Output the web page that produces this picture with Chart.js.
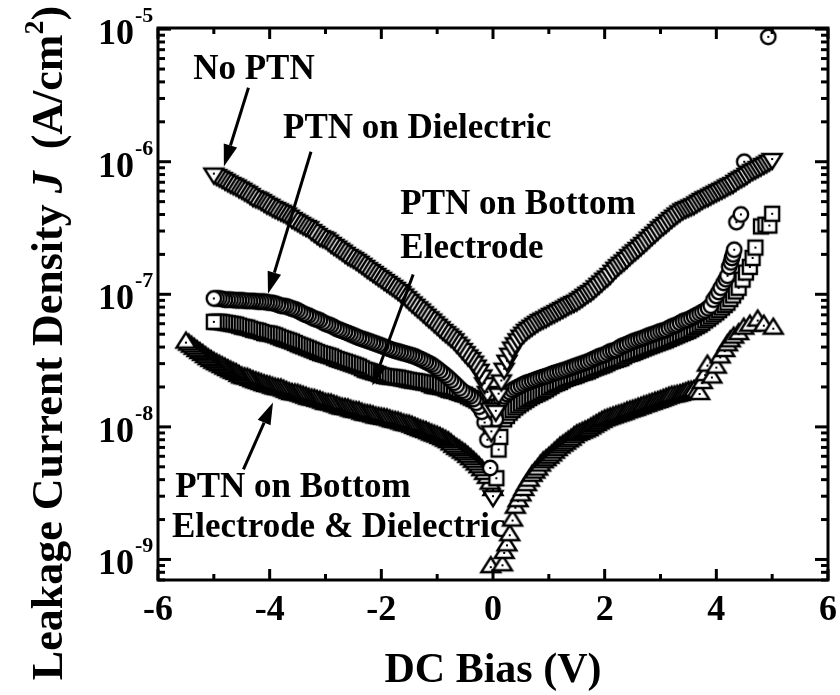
<!DOCTYPE html>
<html>
<head>
<meta charset="utf-8">
<script src="https://cdn.jsdelivr.net/npm/chart.js@4.4.1/dist/chart.umd.min.js"></script>
<style>
  html, body { margin: 0; padding: 0; background: #fff; }
  #wrap { width: 840px; height: 695px; }
</style>
</head>
<body>
<div id="wrap"><canvas id="c" width="840" height="695"></canvas></div>
<script>
// ---- Leakage current density J (A/cm^2) versus DC bias (V) ----
// Each entry: [bias V, J]

// No PTN (open down-triangles)
const noPtn = [
  [-5.0,8.0e-7],[-4.95,7.8e-7],[-4.9,7.6e-7],[-4.85,7.4e-7],[-4.8,7.2e-7],[-4.75,7.0e-7],[-4.7,6.8e-7],[-4.65,6.65e-7],[-4.6,6.5e-7],[-4.55,6.3e-7],
  [-4.5,6.15e-7],[-4.45,5.95e-7],[-4.4,5.8e-7],[-4.35,5.6e-7],[-4.3,5.4e-7],[-4.25,5.3e-7],[-4.2,5.2e-7],[-4.15,5.05e-7],[-4.1,4.9e-7],[-4.05,4.75e-7],
  [-4.0,4.65e-7],[-3.95,4.5e-7],[-3.9,4.4e-7],[-3.85,4.3e-7],[-3.8,4.2e-7],[-3.75,4.1e-7],[-3.7,4.0e-7],[-3.65,3.85e-7],[-3.6,3.7e-7],[-3.55,3.6e-7],
  [-3.5,3.5e-7],[-3.45,3.4e-7],[-3.4,3.3e-7],[-3.35,3.22e-7],[-3.3,3.15e-7],[-3.25,3.0e-7],[-3.2,2.9e-7],[-3.15,2.8e-7],[-3.1,2.7e-7],[-3.05,2.65e-7],
  [-3.0,2.6e-7],[-2.95,2.5e-7],[-2.9,2.4e-7],[-2.85,2.32e-7],[-2.8,2.25e-7],[-2.75,2.17e-7],[-2.7,2.1e-7],[-2.65,2.02e-7],[-2.6,1.95e-7],[-2.55,1.9e-7],
  [-2.5,1.85e-7],[-2.45,1.79e-7],[-2.4,1.73e-7],[-2.35,1.67e-7],[-2.3,1.61e-7],[-2.25,1.55e-7],[-2.2,1.5e-7],[-2.15,1.45e-7],[-2.1,1.4e-7],[-2.05,1.35e-7],
  [-2.0,1.31e-7],[-1.95,1.26e-7],[-1.9,1.22e-7],[-1.85,1.18e-7],[-1.8,1.14e-7],[-1.75,1.1e-7],[-1.7,1.06e-7],[-1.65,1.02e-7],[-1.6,9.8e-8],[-1.55,9.35e-8],
  [-1.5,8.95e-8],[-1.45,8.55e-8],[-1.4,8.2e-8],[-1.35,7.85e-8],[-1.3,7.55e-8],[-1.25,7.2e-8],[-1.2,6.9e-8],[-1.15,6.6e-8],[-1.1,6.35e-8],[-1.05,6.05e-8],
  [-1.0,5.8e-8],[-0.95,5.55e-8],[-0.9,5.3e-8],[-0.85,5.1e-8],[-0.8,4.9e-8],[-0.75,4.7e-8],[-0.7,4.5e-8],[-0.65,4.25e-8],[-0.6,4.05e-8],[-0.55,3.8e-8],
  [-0.5,3.6e-8],[-0.45,3.4e-8],[-0.4,3.25e-8],[-0.35,3.05e-8],[-0.3,2.85e-8],[-0.25,2.65e-8],[-0.2,2.4e-8],[-0.15,2.1e-8],[-0.1,1.8e-8],
  [-0.05,1.35e-8],[-0.03,9.1e-9],[0.0,2.95e-9],
  [0.05,1.3e-8],[0.1,1.75e-8],[0.15,2.2e-8],[0.2,2.7e-8],[0.25,3.1e-8],[0.3,3.5e-8],[0.35,3.9e-8],[0.4,4.2e-8],[0.45,4.5e-8],[0.5,4.8e-8],
  [0.55,5.05e-8],[0.6,5.3e-8],[0.65,5.5e-8],[0.7,5.7e-8],[0.75,5.9e-8],[0.8,6.1e-8],[0.85,6.3e-8],[0.9,6.45e-8],[0.95,6.6e-8],[1.0,6.8e-8],
  [1.05,7.0e-8],[1.1,7.15e-8],[1.15,7.35e-8],[1.2,7.55e-8],[1.25,7.75e-8],[1.3,7.95e-8],[1.35,8.2e-8],[1.4,8.4e-8],[1.45,8.6e-8],[1.5,8.8e-8],
  [1.55,9.1e-8],[1.6,9.4e-8],[1.65,9.75e-8],[1.7,1.01e-7],[1.75,1.04e-7],[1.8,1.08e-7],[1.85,1.13e-7],[1.9,1.18e-7],[1.95,1.23e-7],[2.0,1.29e-7],
  [2.05,1.34e-7],[2.1,1.4e-7],[2.15,1.48e-7],[2.2,1.56e-7],[2.25,1.63e-7],[2.3,1.7e-7],[2.35,1.77e-7],[2.4,1.85e-7],[2.45,1.94e-7],[2.5,2.03e-7],
  [2.55,2.11e-7],[2.6,2.2e-7],[2.65,2.3e-7],[2.7,2.4e-7],[2.75,2.51e-7],[2.8,2.63e-7],[2.85,2.75e-7],[2.9,2.87e-7],[2.95,3.0e-7],[3.0,3.15e-7],
  [3.05,3.27e-7],[3.1,3.4e-7],[3.15,3.55e-7],[3.2,3.7e-7],[3.25,3.85e-7],[3.3,4.0e-7],[3.35,4.15e-7],[3.4,4.3e-7],[3.45,4.4e-7],[3.5,4.5e-7],
  [3.55,4.6e-7],[3.6,4.7e-7],[3.65,4.85e-7],[3.7,5.0e-7],[3.75,5.15e-7],[3.8,5.3e-7],[3.85,5.4e-7],[3.9,5.55e-7],[3.95,5.7e-7],[4.0,5.85e-7],
  [4.05,6.0e-7],[4.1,6.15e-7],[4.15,6.3e-7],[4.2,6.5e-7],[4.25,6.65e-7],[4.3,6.8e-7],[4.35,7.05e-7],[4.4,7.3e-7],[4.45,7.5e-7],[4.5,7.7e-7],
  [4.55,7.95e-7],[4.6,8.25e-7],[4.65,8.5e-7],[4.7,8.7e-7],[4.75,8.95e-7],[4.8,9.2e-7],[4.85,9.45e-7],[4.9,9.7e-7],[4.95,1.0e-6],[5.0,1.03e-6]
];

// PTN on Dielectric (open circles)
const ptnDielectric = [
  [-5.0,9.3e-8],[-4.95,9.3e-8],[-4.9,9.3e-8],[-4.85,9.2e-8],[-4.8,9.1e-8],[-4.75,9.1e-8],[-4.7,9.1e-8],[-4.65,9.05e-8],[-4.6,9.0e-8],[-4.55,9.0e-8],
  [-4.5,9.0e-8],[-4.45,8.95e-8],[-4.4,8.9e-8],[-4.35,8.9e-8],[-4.3,8.9e-8],[-4.25,8.85e-8],[-4.2,8.8e-8],[-4.15,8.8e-8],[-4.1,8.8e-8],[-4.05,8.7e-8],
  [-4.0,8.65e-8],[-3.95,8.6e-8],[-3.9,8.5e-8],[-3.85,8.35e-8],[-3.8,8.2e-8],[-3.75,8.15e-8],[-3.7,8.1e-8],[-3.65,7.95e-8],[-3.6,7.8e-8],[-3.55,7.7e-8],
  [-3.5,7.55e-8],[-3.45,7.35e-8],[-3.4,7.15e-8],[-3.35,7.0e-8],[-3.3,6.9e-8],[-3.25,6.7e-8],[-3.2,6.55e-8],[-3.15,6.45e-8],[-3.1,6.35e-8],[-3.05,6.15e-8],
  [-3.0,6.0e-8],[-2.95,5.9e-8],[-2.9,5.8e-8],[-2.85,5.65e-8],[-2.8,5.5e-8],[-2.75,5.4e-8],[-2.7,5.3e-8],[-2.65,5.2e-8],[-2.6,5.1e-8],[-2.55,5.0e-8],
  [-2.5,4.9e-8],[-2.45,4.8e-8],[-2.4,4.7e-8],[-2.35,4.62e-8],[-2.3,4.55e-8],[-2.25,4.47e-8],[-2.2,4.4e-8],[-2.15,4.32e-8],[-2.1,4.25e-8],[-2.05,4.17e-8],
  [-2.0,4.1e-8],[-1.95,4.02e-8],[-1.9,3.95e-8],[-1.85,3.87e-8],[-1.8,3.8e-8],[-1.75,3.75e-8],[-1.7,3.7e-8],[-1.65,3.65e-8],[-1.6,3.6e-8],[-1.55,3.55e-8],
  [-1.5,3.5e-8],[-1.45,3.45e-8],[-1.4,3.4e-8],[-1.35,3.32e-8],[-1.3,3.25e-8],[-1.25,3.17e-8],[-1.2,3.1e-8],[-1.15,3.02e-8],[-1.1,2.95e-8],[-1.05,2.85e-8],
  [-1.0,2.75e-8],[-0.95,2.65e-8],[-0.9,2.55e-8],[-0.85,2.45e-8],[-0.8,2.35e-8],[-0.75,2.25e-8],[-0.7,2.15e-8],[-0.65,2.05e-8],[-0.6,1.95e-8],[-0.55,1.87e-8],
  [-0.5,1.8e-8],[-0.45,1.75e-8],[-0.4,1.7e-8],[-0.35,1.62e-8],[-0.3,1.52e-8],[-0.25,1.42e-8],[-0.2,1.3e-8],[-0.15,1.08e-8],[-0.1,8.0e-9],[-0.05,4.9e-9],
  [0.05,1.14e-8],[0.1,1.48e-8],[0.15,1.6e-8],[0.2,1.7e-8],[0.25,1.77e-8],[0.3,1.83e-8],[0.35,1.9e-8],[0.4,1.95e-8],[0.45,2.0e-8],[0.5,2.05e-8],
  [0.55,2.1e-8],[0.6,2.15e-8],[0.65,2.18e-8],[0.7,2.22e-8],[0.75,2.26e-8],[0.8,2.3e-8],[0.85,2.34e-8],[0.9,2.38e-8],[0.95,2.41e-8],[1.0,2.45e-8],
  [1.05,2.5e-8],[1.1,2.55e-8],[1.15,2.58e-8],[1.2,2.62e-8],[1.25,2.66e-8],[1.3,2.7e-8],[1.35,2.75e-8],[1.4,2.8e-8],[1.45,2.85e-8],[1.5,2.9e-8],
  [1.55,2.95e-8],[1.6,3.0e-8],[1.65,3.05e-8],[1.7,3.1e-8],[1.75,3.17e-8],[1.8,3.25e-8],[1.85,3.32e-8],[1.9,3.4e-8],[1.95,3.45e-8],[2.0,3.5e-8],
  [2.05,3.6e-8],[2.1,3.7e-8],[2.15,3.75e-8],[2.2,3.8e-8],[2.25,3.92e-8],[2.3,4.05e-8],[2.35,4.12e-8],[2.4,4.2e-8],[2.45,4.3e-8],[2.5,4.4e-8],
  [2.55,4.47e-8],[2.6,4.55e-8],[2.65,4.62e-8],[2.7,4.7e-8],[2.75,4.8e-8],[2.8,4.9e-8],[2.85,4.97e-8],[2.9,5.05e-8],[2.95,5.15e-8],[3.0,5.25e-8],
  [3.05,5.32e-8],[3.1,5.4e-8],[3.15,5.55e-8],[3.2,5.7e-8],[3.25,5.8e-8],[3.3,5.9e-8],[3.35,6.07e-8],[3.4,6.25e-8],[3.45,6.35e-8],[3.5,6.45e-8],
  [3.55,6.62e-8],[3.6,6.8e-8],[3.65,6.97e-8],[3.7,7.15e-8],[3.75,7.35e-8],[3.8,7.55e-8],[3.85,7.85e-8],[3.9,8.2e-8],[3.95,9.1e-8],[4.0,9.7e-8],
  [4.04,1.04e-7],[4.08,1.12e-7],[4.13,1.22e-7],[4.17,1.3e-7],[4.2,1.38e-7],[4.23,1.61e-7],[4.26,1.74e-7],[4.28,1.88e-7],[4.3,2.0e-7],[4.32,2.17e-7],
  [4.36,3.5e-7],[4.44,4.0e-7],[4.5,1.0e-6],[4.93,8.75e-6]
];

// PTN on Bottom Electrode (open squares)
const ptnBottom = [
  [-5.0,6.2e-8],[-4.95,6.2e-8],[-4.9,6.2e-8],[-4.85,6.15e-8],[-4.8,6.1e-8],[-4.75,6.05e-8],[-4.7,6.0e-8],[-4.65,5.95e-8],[-4.6,5.9e-8],[-4.55,5.8e-8],
  [-4.5,5.7e-8],[-4.45,5.65e-8],[-4.4,5.6e-8],[-4.35,5.5e-8],[-4.3,5.4e-8],[-4.25,5.35e-8],[-4.2,5.3e-8],[-4.15,5.2e-8],[-4.1,5.1e-8],[-4.05,5.07e-8],
  [-4.0,5.05e-8],[-3.95,4.97e-8],[-3.9,4.9e-8],[-3.85,4.8e-8],[-3.8,4.7e-8],[-3.75,4.62e-8],[-3.7,4.55e-8],[-3.65,4.47e-8],[-3.6,4.4e-8],[-3.55,4.3e-8],
  [-3.5,4.2e-8],[-3.45,4.12e-8],[-3.4,4.05e-8],[-3.35,3.97e-8],[-3.3,3.9e-8],[-3.25,3.82e-8],[-3.2,3.75e-8],[-3.15,3.67e-8],[-3.1,3.6e-8],[-3.05,3.55e-8],
  [-3.0,3.5e-8],[-2.95,3.45e-8],[-2.9,3.4e-8],[-2.85,3.32e-8],[-2.8,3.25e-8],[-2.75,3.2e-8],[-2.7,3.15e-8],[-2.65,3.1e-8],[-2.6,3.05e-8],[-2.55,3.0e-8],
  [-2.5,2.95e-8],[-2.45,2.9e-8],[-2.4,2.85e-8],[-2.35,2.77e-8],[-2.3,2.7e-8],[-2.25,2.66e-8],[-2.2,2.62e-8],[-2.15,2.58e-8],[-2.1,2.55e-8],[-2.05,2.5e-8],
  [-2.0,2.45e-8],[-1.95,2.42e-8],[-1.9,2.4e-8],[-1.85,2.39e-8],[-1.8,2.38e-8],[-1.75,2.36e-8],[-1.7,2.35e-8],[-1.65,2.32e-8],[-1.6,2.3e-8],[-1.55,2.27e-8],
  [-1.5,2.25e-8],[-1.45,2.23e-8],[-1.4,2.22e-8],[-1.35,2.2e-8],[-1.3,2.18e-8],[-1.25,2.16e-8],[-1.2,2.15e-8],[-1.15,2.1e-8],[-1.1,2.05e-8],[-1.05,2.03e-8],
  [-1.0,2.02e-8],[-0.95,2.0e-8],[-0.9,1.98e-8],[-0.85,1.94e-8],[-0.8,1.9e-8],[-0.75,1.88e-8],[-0.7,1.87e-8],[-0.65,1.83e-8],[-0.6,1.8e-8],[-0.55,1.77e-8],
  [-0.5,1.75e-8],[-0.45,1.7e-8],[-0.4,1.66e-8],[-0.35,1.62e-8],[-0.3,1.58e-8],[-0.25,1.53e-8],[-0.2,1.48e-8],[-0.15,1.42e-8],[-0.1,1.35e-8],[-0.04,1.04e-8],
  [0.06,4.1e-9],[0.1,6.75e-9],[0.13,8.4e-9],
  [0.2,1.14e-8],[0.25,1.21e-8],[0.3,1.28e-8],[0.35,1.34e-8],[0.4,1.4e-8],[0.45,1.45e-8],[0.5,1.5e-8],[0.55,1.55e-8],[0.6,1.6e-8],[0.65,1.65e-8],
  [0.7,1.7e-8],[0.75,1.74e-8],[0.8,1.78e-8],[0.85,1.82e-8],[0.9,1.87e-8],[0.95,1.92e-8],[1.0,1.98e-8],[1.05,2.04e-8],[1.1,2.1e-8],[1.15,2.14e-8],
  [1.2,2.18e-8],[1.25,2.24e-8],[1.3,2.3e-8],[1.35,2.34e-8],[1.4,2.38e-8],[1.45,2.41e-8],[1.5,2.45e-8],[1.55,2.5e-8],[1.6,2.55e-8],[1.65,2.58e-8],
  [1.7,2.62e-8],[1.75,2.68e-8],[1.8,2.75e-8],[1.85,2.8e-8],[1.9,2.85e-8],[1.95,2.9e-8],[2.0,2.95e-8],[2.05,3.02e-8],[2.1,3.1e-8],[2.15,3.15e-8],
  [2.2,3.2e-8],[2.25,3.25e-8],[2.3,3.3e-8],[2.35,3.4e-8],[2.4,3.5e-8],[2.45,3.55e-8],[2.5,3.6e-8],[2.55,3.67e-8],[2.6,3.75e-8],[2.65,3.82e-8],
  [2.7,3.9e-8],[2.75,3.97e-8],[2.8,4.05e-8],[2.85,4.12e-8],[2.9,4.2e-8],[2.95,4.27e-8],[3.0,4.35e-8],[3.05,4.42e-8],[3.1,4.5e-8],[3.15,4.6e-8],
  [3.2,4.7e-8],[3.25,4.8e-8],[3.3,4.9e-8],[3.35,5.0e-8],[3.4,5.1e-8],[3.45,5.2e-8],[3.5,5.3e-8],[3.55,5.45e-8],[3.6,5.6e-8],[3.65,5.75e-8],
  [3.7,5.9e-8],[3.75,6.1e-8],[3.8,6.35e-8],[3.85,6.55e-8],[3.9,6.8e-8],[3.95,7.05e-8],[4.0,7.3e-8],[4.05,7.6e-8],[4.1,7.95e-8],[4.15,8.3e-8],
  [4.2,8.65e-8],[4.25,9.2e-8],[4.3,9.8e-8],[4.35,1.05e-7],[4.4,1.12e-7],[4.47,1.29e-7],[4.53,1.46e-7],[4.6,1.61e-7],[4.65,1.88e-7],[4.7,2.25e-7],
  [4.8,3.25e-7],[4.88,3.35e-7],[4.95,3.3e-7],[5.0,4.05e-7]
];

// PTN on Bottom Electrode & Dielectric (open up-triangles)
const ptnBoth = [
  [-5.5,4.4e-8],[-5.45,4.25e-8],[-5.4,4.1e-8],[-5.35,3.95e-8],[-5.3,3.8e-8],[-5.25,3.67e-8],[-5.2,3.55e-8],[-5.15,3.42e-8],[-5.1,3.3e-8],[-5.05,3.2e-8],
  [-5.0,3.1e-8],[-4.95,3.02e-8],[-4.9,2.95e-8],[-4.85,2.87e-8],[-4.8,2.8e-8],[-4.75,2.73e-8],[-4.7,2.66e-8],[-4.65,2.6e-8],[-4.6,2.55e-8],[-4.55,2.47e-8],
  [-4.5,2.4e-8],[-4.45,2.37e-8],[-4.4,2.35e-8],[-4.35,2.3e-8],[-4.3,2.25e-8],[-4.25,2.21e-8],[-4.2,2.18e-8],[-4.15,2.14e-8],[-4.1,2.1e-8],[-4.05,2.07e-8],
  [-4.0,2.05e-8],[-3.95,2.01e-8],[-3.9,1.98e-8],[-3.85,1.96e-8],[-3.8,1.95e-8],[-3.75,1.91e-8],[-3.7,1.87e-8],[-3.65,1.83e-8],[-3.6,1.8e-8],[-3.55,1.79e-8],
  [-3.5,1.78e-8],[-3.45,1.75e-8],[-3.4,1.72e-8],[-3.35,1.69e-8],[-3.3,1.66e-8],[-3.25,1.64e-8],[-3.2,1.63e-8],[-3.15,1.6e-8],[-3.1,1.58e-8],[-3.05,1.55e-8],
  [-3.0,1.52e-8],[-2.95,1.51e-8],[-2.9,1.5e-8],[-2.85,1.47e-8],[-2.8,1.45e-8],[-2.75,1.42e-8],[-2.7,1.4e-8],[-2.65,1.39e-8],[-2.6,1.38e-8],[-2.55,1.35e-8],
  [-2.5,1.33e-8],[-2.45,1.32e-8],[-2.4,1.31e-8],[-2.35,1.28e-8],[-2.3,1.26e-8],[-2.25,1.25e-8],[-2.2,1.24e-8],[-2.15,1.22e-8],[-2.1,1.2e-8],[-2.05,1.19e-8],
  [-2.0,1.18e-8],[-1.95,1.17e-8],[-1.9,1.16e-8],[-1.85,1.14e-8],[-1.8,1.12e-8],[-1.75,1.11e-8],[-1.7,1.1e-8],[-1.65,1.08e-8],[-1.6,1.06e-8],[-1.55,1.05e-8],
  [-1.5,1.04e-8],[-1.45,1.02e-8],[-1.4,1.0e-8],[-1.35,9.8e-9],[-1.3,9.6e-9],[-1.25,9.45e-9],[-1.2,9.3e-9],[-1.15,9.1e-9],[-1.1,8.9e-9],[-1.05,8.75e-9],
  [-1.0,8.6e-9],[-0.95,8.4e-9],[-0.9,8.2e-9],[-0.85,8.0e-9],[-0.8,7.8e-9],[-0.75,7.5e-9],[-0.7,7.2e-9],[-0.65,6.95e-9],[-0.6,6.75e-9],[-0.55,6.5e-9],
  [-0.5,6.3e-9],[-0.45,6.05e-9],[-0.4,5.8e-9],[-0.35,5.55e-9],[-0.3,5.3e-9],[-0.25,5.05e-9],[-0.2,4.8e-9],[-0.15,4.5e-9],[-0.1,4.2e-9],[-0.05,3.8e-9],
  [0.0,3.4e-9],[-0.04,8.9e-10],[0.17,9.2e-10],
  [0.2,1.14e-9],[0.25,1.3e-9],[0.3,1.55e-9],[0.35,2.0e-9],[0.4,2.5e-9],[0.45,2.8e-9],[0.5,3.1e-9],[0.55,3.4e-9],[0.6,3.7e-9],[0.65,4.0e-9],
  [0.7,4.35e-9],[0.75,4.6e-9],[0.8,4.85e-9],[0.85,5.2e-9],[0.9,5.5e-9],[0.95,5.7e-9],[1.0,5.95e-9],[1.05,6.2e-9],[1.1,6.5e-9],[1.15,6.8e-9],
  [1.2,7.1e-9],[1.25,7.35e-9],[1.3,7.6e-9],[1.35,7.9e-9],[1.4,8.15e-9],[1.45,8.5e-9],[1.5,8.8e-9],[1.55,9.0e-9],[1.6,9.2e-9],[1.65,9.4e-9],
  [1.7,9.6e-9],[1.75,9.9e-9],[1.8,1.02e-8],[1.85,1.05e-8],[1.9,1.08e-8],[1.95,1.11e-8],[2.0,1.14e-8],[2.05,1.16e-8],[2.1,1.18e-8],[2.15,1.2e-8],
  [2.2,1.22e-8],[2.25,1.24e-8],[2.3,1.26e-8],[2.35,1.28e-8],[2.4,1.31e-8],[2.45,1.33e-8],[2.5,1.35e-8],[2.55,1.37e-8],[2.6,1.4e-8],[2.65,1.42e-8],
  [2.7,1.45e-8],[2.75,1.47e-8],[2.8,1.5e-8],[2.85,1.52e-8],[2.9,1.55e-8],[2.95,1.57e-8],[3.0,1.6e-8],[3.05,1.63e-8],[3.1,1.66e-8],[3.15,1.69e-8],
  [3.2,1.72e-8],[3.25,1.73e-8],[3.3,1.75e-8],[3.35,1.77e-8],[3.4,1.8e-8],[3.45,1.83e-8],[3.5,1.87e-8],[3.55,1.88e-8],[3.6,1.9e-8],[3.65,1.85e-8],
  [3.7,1.8e-8],[3.75,2.18e-8],[3.8,2.5e-8],[3.84,2.95e-8],[3.92,2.4e-8],[4.0,2.85e-8],[4.07,3.4e-8],[4.15,3.8e-8],[4.2,4.2e-8],[4.25,4.5e-8],
  [4.31,4.8e-8],[4.4,5.1e-8],[4.49,5.6e-8],[4.6,5.9e-8],[4.74,6.45e-8],[4.85,5.9e-8],[5.02,5.6e-8]
];

// Axis ticks
const xMajorTicks = [-6, -4, -2, 0, 2, 4, 6];
const xMinorTicks = [-5, -3, -1, 1, 3, 5];
const yDecadeExponents = [-9, -8, -7, -6, -5];

// Curve labels (anchored in data units: bias, current density)
const labelLines = ["No PTN", "PTN on Dielectric", "PTN on Bottom", "Electrode",
                    "PTN on Bottom", "Electrode & Dielectric"];
const labelV = [-5.37, -3.76, -1.66, -1.66, -5.69, -5.75];
const labelJ = [4.2e-6, 1.52e-6, 4.06e-7, 1.89e-7, 2.94e-9, 1.49e-9];

// Pointer arrows: tail -> head, in data units
const arrowFromV = [-4.38, -3.26, -1.43, -4.47];
const arrowFromJ = [3.61e-6, 1.19e-6, 1.41e-7, 4.78e-9];
const arrowToV = [-4.82, -4.03, -2.16, -3.94];
const arrowToJ = [9.2e-7, 1.01e-7, 2.05e-8, 1.53e-8];

const SERIF = '"Liberation Serif", "Times New Roman", serif';

// Hollow marker with a dot in the middle
function makeMarker(kind) {
  const s = 28, m = s / 2;
  const c = document.createElement('canvas');
  c.width = s; c.height = s;
  const g = c.getContext('2d');
  g.lineWidth = 2.4;
  g.lineJoin = 'miter';
  g.strokeStyle = '#000';
  g.fillStyle = '#fff';
  g.beginPath();
  let cy = m;
  if (kind === 'circle') {
    g.arc(m, m, 7.2, 0, Math.PI * 2);
  } else if (kind === 'square') {
    g.rect(m - 7, m - 7, 14, 14);
  } else if (kind === 'up') {
    g.moveTo(m, m - 9); g.lineTo(m + 9.5, m + 6); g.lineTo(m - 9.5, m + 6); g.closePath();
    cy = m + 1;
  } else {
    g.moveTo(m - 9.5, m - 6); g.lineTo(m + 9.5, m - 6); g.lineTo(m, m + 9); g.closePath();
    cy = m - 1;
  }
  g.fill();
  g.stroke();
  g.fillStyle = '#000';
  g.fillRect(m - 1, cy - 1, 2, 2);
  return c;
}

// Outer points drawn last so each sweep ends with a clear marker
function toPoints(rows) {
  return rows.map(r => ({ x: r[0], y: r[1] }))
             .sort((a, b) => Math.abs(a.x) - Math.abs(b.x));
}

function series(label, rows, kind) {
  return {
    label,
    data: toPoints(rows),
    showLine: false,
    pointStyle: makeMarker(kind),
    pointRadius: 9,
    pointHoverRadius: 9
  };
}

const frameAndText = {
  id: 'frameAndText',
  afterDatasetsDraw(chart) {
    const ctx = chart.ctx;
    const a = chart.chartArea;
    const xs = chart.scales.x, ys = chart.scales.y;
    ctx.save();
    ctx.strokeStyle = '#000';
    ctx.fillStyle = '#000';

    // ticks (inward, on all four sides)
    ctx.lineWidth = 3;
    const tick = (x1, y1, x2, y2) => { ctx.beginPath(); ctx.moveTo(x1, y1); ctx.lineTo(x2, y2); ctx.stroke(); };
    xMajorTicks.forEach(v => {
      const px = xs.getPixelForValue(v);
      tick(px, a.bottom, px, a.bottom - 11);
      tick(px, a.top, px, a.top + 11);
    });
    xMinorTicks.forEach(v => {
      const px = xs.getPixelForValue(v);
      tick(px, a.bottom, px, a.bottom - 6);
      tick(px, a.top, px, a.top + 6);
    });
    for (let e = -10; e <= -5; e++) {
      for (let k = 1; k <= 9; k++) {
        const val = k * Math.pow(10, e);
        if (val < ys.min || val > ys.max * 1.0001) continue;
        const py = ys.getPixelForValue(val);
        const len = k === 1 ? 13 : 7;
        tick(a.left, py, a.left + len, py);
        tick(a.right, py, a.right - len, py);
      }
    }

    // frame
    ctx.lineWidth = 3;
    ctx.strokeRect(a.left, a.top, a.right - a.left, a.bottom - a.top);

    // x tick labels
    ctx.font = 'bold 36px ' + SERIF;
    ctx.textAlign = 'center';
    ctx.textBaseline = 'alphabetic';
    xMajorTicks.forEach(v => {
      ctx.fillText(String(v), xs.getPixelForValue(v), a.bottom + 40);
    });

    // y tick labels: 10 with raised exponent
    yDecadeExponents.forEach(e => {
      const py = ys.getPixelForValue(Math.pow(10, e));
      ctx.font = 'bold 36px ' + SERIF;
      ctx.textAlign = 'right';
      ctx.fillText('10', a.left - 24, py + 15);
      ctx.font = 'bold 22px ' + SERIF;
      ctx.textAlign = 'left';
      ctx.fillText(String(e), a.left - 23, py - 7);
    });

    // x axis title
    ctx.font = 'bold 42px ' + SERIF;
    ctx.textAlign = 'center';
    ctx.fillText('DC Bias (V)', (a.left + a.right) / 2, a.bottom + 102);

    // y axis title, rotated
    const parts = [
      { t: 'Leakage Current Density ', f: 'bold 44px ' + SERIF, dy: 0 },
      { t: 'J', f: 'italic bold 44px ' + SERIF, dy: 0 },
      { t: '  (A/cm', f: 'bold 44px ' + SERIF, dy: 0 },
      { t: '2', f: 'bold 28px ' + SERIF, dy: -19 },
      { t: ')', f: 'bold 44px ' + SERIF, dy: 0 }
    ];
    let total = 0;
    parts.forEach(p => { ctx.font = p.f; p.w = ctx.measureText(p.t).width; total += p.w; });
    ctx.save();
    ctx.translate(62, 343);
    ctx.rotate(-Math.PI / 2);
    ctx.textAlign = 'left';
    let cx = -total / 2;
    parts.forEach(p => { ctx.font = p.f; ctx.fillText(p.t, cx, p.dy); cx += p.w; });
    ctx.restore();

    // curve labels
    ctx.font = 'bold 35px ' + SERIF;
    ctx.textAlign = 'left';
    labelLines.forEach((t, i) => {
      ctx.fillText(t, xs.getPixelForValue(labelV[i]), ys.getPixelForValue(labelJ[i]));
    });

    // arrows
    arrowFromV.forEach((v, i) => {
      const x1 = xs.getPixelForValue(v), y1 = ys.getPixelForValue(arrowFromJ[i]);
      const x2 = xs.getPixelForValue(arrowToV[i]), y2 = ys.getPixelForValue(arrowToJ[i]);
      const ang = Math.atan2(y2 - y1, x2 - x1);
      const headL = 22, headW = 7;
      const bx = x2 - headL * Math.cos(ang), by = y2 - headL * Math.sin(ang);
      ctx.lineWidth = 3;
      ctx.beginPath(); ctx.moveTo(x1, y1); ctx.lineTo(bx, by); ctx.stroke();
      ctx.beginPath();
      ctx.moveTo(x2, y2);
      ctx.lineTo(bx + headW * Math.sin(ang), by - headW * Math.cos(ang));
      ctx.lineTo(bx - headW * Math.sin(ang), by + headW * Math.cos(ang));
      ctx.closePath();
      ctx.fill();
    });

    ctx.restore();
  }
};

new Chart(document.getElementById('c'), {
  type: 'scatter',
  data: {
    datasets: [
      series('No PTN', noPtn, 'down'),
      series('PTN on Dielectric', ptnDielectric, 'circle'),
      series('PTN on Bottom Electrode', ptnBottom, 'square'),
      series('PTN on Bottom Electrode & Dielectric', ptnBoth, 'up')
    ]
  },
  options: {
    responsive: false,
    animation: false,
    devicePixelRatio: 1,
    layout: { padding: { top: 28, right: 12, left: 0, bottom: 0 } },
    plugins: { legend: { display: false }, tooltip: { enabled: false } },
    events: [],
    scales: {
      x: {
        type: 'linear', min: -6, max: 6,
        grid: { display: false }, border: { display: false },
        ticks: { display: false },
        afterFit(s) { s.height = 115; }
      },
      y: {
        type: 'logarithmic', min: 7.08e-10, max: 1.02e-5,
        grid: { display: false }, border: { display: false },
        ticks: { display: false },
        afterFit(s) { s.width = 158; }
      }
    }
  },
  plugins: [frameAndText]
});
</script>
</body>
</html>
